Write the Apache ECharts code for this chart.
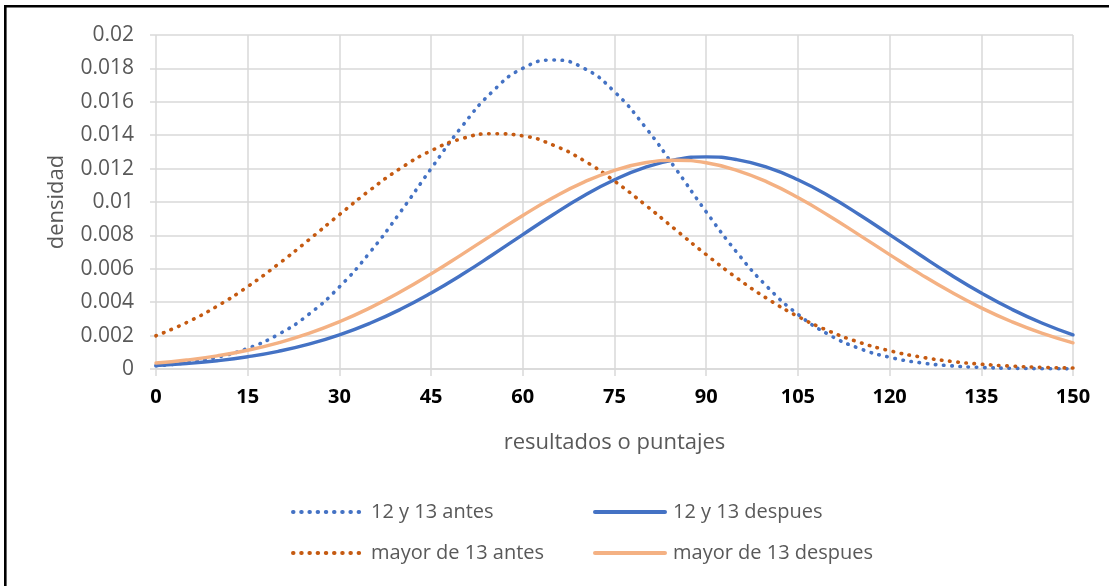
<!DOCTYPE html>
<html>
<head>
<meta charset="utf-8">
<script src="https://cdn.jsdelivr.net/npm/echarts@6/dist/echarts.min.js"></script>
<style>
  html, body { margin: 0; padding: 0; background: #ffffff; }
  #chart { width: 1109px; height: 586px; }
</style>
</head>
<body>
<div id="chart"></div>
<script>
// Score points (resultados o puntajes), every 5 points from 0 to 150
const scores = [0, 5, 10, 15, 20, 25, 30, 35, 40, 45, 50, 55, 60, 65, 70, 75,
  80, 85, 90, 95, 100, 105, 110, 115, 120, 125, 130, 135, 140, 145, 150];

// Density values for each group
const antes12y13 = [0.000192, 0.000377, 0.000702, 0.001238, 0.00207, 0.003276, 0.004917,
  0.00699, 0.00941, 0.0120, 0.01450, 0.01660, 0.01801, 0.0185, 0.01801, 0.01660,
  0.01450, 0.0120, 0.00941, 0.00699, 0.004917, 0.003276, 0.00207, 0.001238,
  0.000702, 0.000377, 0.000192, 0.000092, 0.000042, 0.000018, 0.0000075];

const despues12y13 = [0.000209, 0.000326, 0.000494, 0.000733, 0.001058, 0.00149, 0.002046,
  0.00274, 0.003574, 0.004548, 0.005641, 0.006824, 0.008047, 0.00925, 0.01037,
  0.01133, 0.01207, 0.01254, 0.0127, 0.01254, 0.01207, 0.01133, 0.01037, 0.00925,
  0.008047, 0.006824, 0.005641, 0.004548, 0.003574, 0.00274, 0.002046];

const antesMayor13 = [0.00199, 0.00278, 0.003763, 0.004937, 0.006278, 0.007738, 0.009245,
  0.01071, 0.01202, 0.01307, 0.01379, 0.01409, 0.01396, 0.01340, 0.01248, 0.01125,
  0.00984, 0.00834, 0.00685, 0.005455, 0.00421, 0.00315, 0.002284, 0.001605,
  0.001093, 0.000722, 0.000462, 0.000287, 0.000172, 0.0001, 0.000057];

const despuesMayor13 = [0.000359, 0.000538, 0.000788, 0.001125, 0.001568, 0.002131, 0.002828,
  0.00366, 0.004621, 0.005695, 0.006848, 0.008033, 0.009195, 0.01027, 0.01119,
  0.0119, 0.01235, 0.0125, 0.01235, 0.0119, 0.01119, 0.01027, 0.009195, 0.008033,
  0.006848, 0.005695, 0.004621, 0.00366, 0.002828, 0.002131, 0.001568];

const seriesNames = ['12 y 13 antes', '12 y 13 despues', 'mayor de 13 antes', 'mayor de 13 despues'];

const FONT = '"Open Sans", "Noto Sans", sans-serif';
const GRID_COLOR = '#d9d9d9';
const TEXT_COLOR = '#595959';

function pairs(ys) {
  return scores.map((x, i) => [x, ys[i]]);
}

function curve(name, ys, color, dotted) {
  return {
    name: name,
    type: 'line',
    data: pairs(ys),
    smooth: true,
    showSymbol: false,
    symbol: 'none',
    lineStyle: dotted
      ? { color: color, width: 3.6, type: [0.5, 7.7], cap: 'round' }
      : { color: color, width: 3.4, cap: 'round' },
    itemStyle: { color: color },
    emphasis: { disabled: true }
  };
}

const chart = echarts.init(document.getElementById('chart'), null, { renderer: 'canvas' });

// Two legend columns: "antes" on the left, "despues" on the right
const legendCommon = {
  orient: 'vertical',
  top: 502,
  padding: 0,
  itemWidth: 70,
  itemHeight: 14,
  itemGap: 21,
  itemStyle: { opacity: 0 },
  lineStyle: { width: 4 },
  textStyle: { fontFamily: FONT, fontSize: 20, color: TEXT_COLOR, padding: [0, 0, 0, 3] },
  selectedMode: false
};

chart.setOption({
  animation: false,
  backgroundColor: '#ffffff',
  textStyle: { fontFamily: FONT },
  grid: { left: 156, right: 36, top: 35, bottom: 217, containLabel: false },
  legend: [
    Object.assign({}, legendCommon, { left: 291, data: [seriesNames[0], seriesNames[2]] }),
    Object.assign({}, legendCommon, { left: 593, data: [seriesNames[1], seriesNames[3]] })
  ],
  xAxis: {
    type: 'value',
    min: 0,
    max: 150,
    interval: 15,
    name: 'resultados o puntajes',
    nameLocation: 'middle',
    nameGap: 63,
    nameTextStyle: { fontFamily: FONT, fontSize: 22, color: TEXT_COLOR },
    axisLine: { show: true, lineStyle: { color: GRID_COLOR, width: 1.5 } },
    axisTick: { show: true, length: 7, lineStyle: { color: GRID_COLOR, width: 1.5 } },
    axisLabel: { margin: 18, fontFamily: FONT, fontSize: 20, fontWeight: 'bold', color: '#000000' },
    splitLine: { show: true, lineStyle: { color: GRID_COLOR, width: 1.5 } }
  },
  yAxis: {
    type: 'value',
    min: 0,
    max: 0.02,
    interval: 0.002,
    name: 'densidad',
    nameLocation: 'middle',
    nameGap: 88,
    nameRotate: 90,
    nameTextStyle: { fontFamily: FONT, fontSize: 22, color: TEXT_COLOR },
    axisLine: { show: false },
    axisTick: { show: true, length: 6, lineStyle: { color: GRID_COLOR, width: 1.5 } },
    axisLabel: {
      margin: 22,
      fontFamily: FONT,
      fontSize: 21,
      color: TEXT_COLOR,
      formatter: v => String(+v.toFixed(3))
    },
    splitLine: { show: true, lineStyle: { color: GRID_COLOR, width: 1.5 } }
  },
  series: [
    curve(seriesNames[0], antes12y13, '#4472C4', true),
    curve(seriesNames[1], despues12y13, '#4472C4', false),
    curve(seriesNames[2], antesMayor13, '#C55A11', true),
    curve(seriesNames[3], despuesMayor13, '#F4B183', false)
  ],
  graphic: [{
    type: 'rect',
    silent: true,
    z: 100,
    shape: { x: 5.3, y: 6.2, width: 1300, height: 800 },
    style: { fill: null, stroke: '#000000', lineWidth: 2.6 }
  }]
});
</script>
</body>
</html>
